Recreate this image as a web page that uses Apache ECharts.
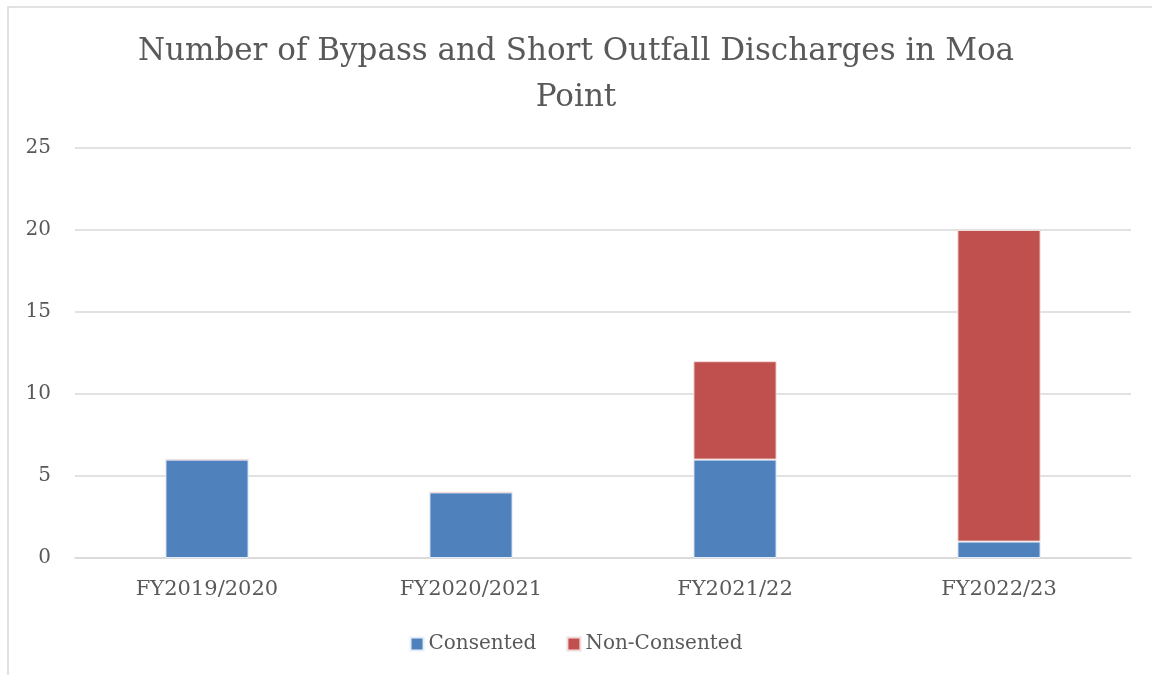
<!DOCTYPE html>
<html>
<head>
<meta charset="utf-8">
<script src="https://cdn.jsdelivr.net/npm/echarts@6/dist/echarts.min.js"></script>
<style>
  html, body { margin: 0; padding: 0; background: #fff; }
  #chart { width: 1152px; height: 675px; }
</style>
</head>
<body>
<div id="chart"></div>
<script>
const categories = ['FY2019/2020', 'FY2020/2021', 'FY2021/22', 'FY2022/23'];
const consented = [6, 4, 6, 1];
const nonConsented = [0, 0, 6, 19];
const yTicks = [0, 5, 10, 15, 20, 25];

const serif = '"DejaVu Serif", "Liberation Serif", serif';
const textColor = '#595959';

const chart = echarts.init(document.getElementById('chart'), null, { renderer: 'canvas' });

const option = {
  backgroundColor: '#fff',
  animation: false,
  graphic: [{
    type: 'rect',
    shape: { x: 8, y: 7, width: 1200, height: 700 },
    style: { fill: 'none', stroke: '#d9d9d9', lineWidth: 1.5 },
    silent: true
  }],
  title: {
    text: 'Number of Bypass and Short Outfall Discharges in Moa\nPoint',
    left: 'center',
    top: 24,
    textStyle: {
      fontFamily: serif,
      fontWeight: 'normal',
      fontSize: 31,
      color: textColor,
      lineHeight: 46
    }
  },
  legend: {
    bottom: 16,
    left: 'center',
    itemWidth: 13,
    itemHeight: 13,
    itemGap: 30,
    icon: 'rect',
    textStyle: { fontFamily: serif, fontSize: 20, color: textColor },
    data: ['Consented', 'Non-Consented']
  },
  grid: {
    left: 75,
    right: 21,
    top: 148,
    bottom: 117
  },
  xAxis: {
    type: 'category',
    data: categories,
    axisLine: { lineStyle: { color: '#d9d9d9', width: 1.5 } },
    axisTick: { show: false },
    axisLabel: {
      fontFamily: serif,
      fontSize: 21,
      color: textColor,
      margin: 21
    }
  },
  yAxis: {
    type: 'value',
    min: yTicks[0],
    max: yTicks[yTicks.length - 1],
    interval: 5,
    axisLine: { show: false },
    axisTick: { show: false },
    axisLabel: {
      fontFamily: serif,
      fontSize: 20,
      color: textColor,
      margin: 24
    },
    splitLine: { lineStyle: { color: '#d9d9d9', width: 1.5 } }
  },
  series: [
    {
      name: 'Consented',
      type: 'bar',
      stack: 'total',
      barWidth: '31.5%',
      data: consented,
      itemStyle: { color: '#4f81bd', borderColor: '#e6eef8', borderWidth: 1 }
    },
    {
      name: 'Non-Consented',
      type: 'bar',
      stack: 'total',
      barWidth: '31.5%',
      data: nonConsented,
      itemStyle: { color: '#c0504d', borderColor: '#f2dcdb', borderWidth: 1 }
    }
  ]
};

chart.setOption(option);
</script>
</body>
</html>
